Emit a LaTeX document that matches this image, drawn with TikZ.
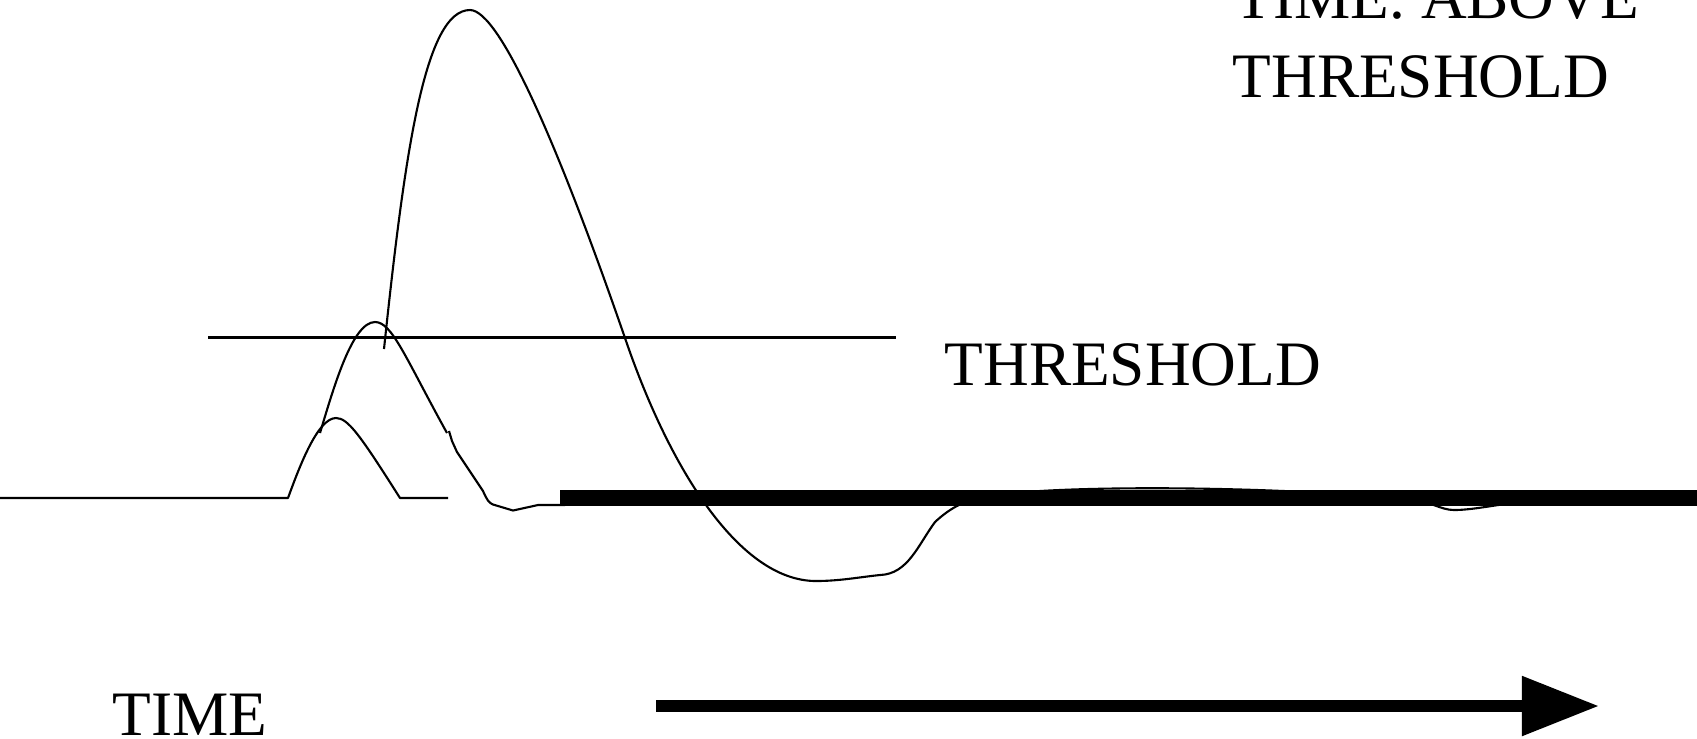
\documentclass[tikz,border=0pt]{standalone}
\usepackage{fontspec}
\setmainfont{Liberation Serif}
\usetikzlibrary{arrows.meta}
\begin{document}
\begin{tikzpicture}[x=0.01cm,y=-0.01cm,
  thinwave/.style={line width=0.6pt, line join=round},
  thickbase/.style={line width=0.16cm},
  labeltext/.style={inner sep=0pt, anchor=base west, font=\fontsize{18}{22}\selectfont},
  timearrow/.style={line width=0.117cm, -{Triangle[length=0.77cm,width=0.57cm]}}]
\useasboundingbox (0,0) rectangle (1697,738);

% threshold line
\coordinate (thrL) at (208,337.5);
\coordinate (thrR) at (896,337.5);
\draw[thinwave] (thrL) -- (thrR);

% resting baseline and small sub-threshold bump
\draw[thinwave] (0,498) -- (288,498)
  .. controls (300,465) and (318,418) .. (336,418)
  .. controls (348,418) and (360,435) .. (400,498)
  -- (448,498);

% medium bump crossing threshold
\draw[thinwave] (320,433)
  .. controls (333,390) and (352,322) .. (375,322)
  .. controls (392,322) and (405,357) .. (447,433);

% decay of medium bump
\draw[thinwave] (449,431) -- (452,441) -- (457,452) -- (483,491)
  .. controls (487,500) and (489,503) .. (493,504.5)
  -- (513,510.5) -- (538,505) -- (565,505);

% action potential
\draw[thinwave] (384,349)
  .. controls (405,150) and (425,10) .. (470,10)
  .. controls (500,10) and (560,150) .. (625,338)
  .. controls (670,470) and (740,581) .. (816,581)
  .. controls (840,581) and (860,577) .. (880,575)
  .. controls (908,574) and (918,545) .. (935,522)
  .. controls (950,508) and (965,500) .. (985,497)
  .. controls (1040,485) and (1260,485) .. (1405,499)
  .. controls (1432,501) and (1440,510) .. (1454,510)
  .. controls (1470,510) and (1490,506) .. (1512,503)
  -- (1560,500);

% thick resting level
\coordinate (baseL) at (560,498);
\coordinate (baseR) at (1697,498);
\draw[thickbase] (baseL) -- (baseR);

% labels
\node[labeltext] (thrlabel) at (944,385) {THRESHOLD};
\node[labeltext] (toplabelA) at (1234,18) {TIME. ABOVE};
\node[labeltext] (toplabelB) at (1232,97) {THRESHOLD};
\node[labeltext] (timelabel) at (112,735) {TIME};

% time arrow
\coordinate (arrowS) at (656,706);
\coordinate (arrowE) at (1599,706);
\draw[timearrow] (arrowS) -- (arrowE);
\end{tikzpicture}
\end{document}
